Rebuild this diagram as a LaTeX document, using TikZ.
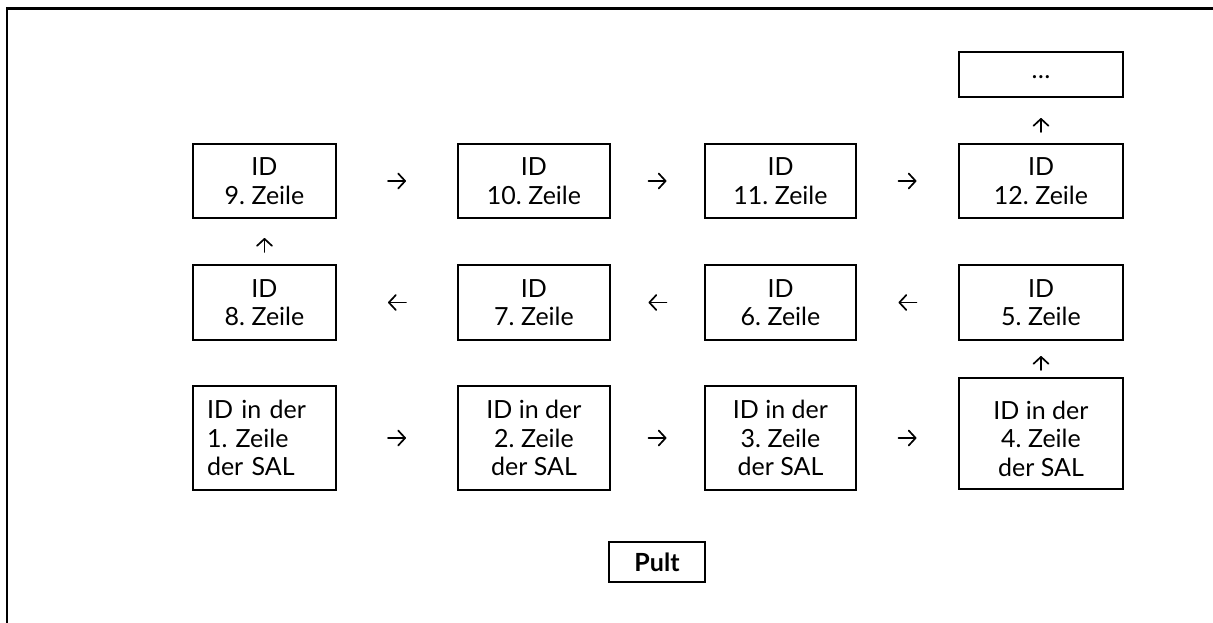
\documentclass[tikz,border=0pt]{standalone}
\usepackage{fontspec}
\setmainfont{Lato}
\usetikzlibrary{arrows.meta}
\frenchspacing
\begin{document}
\begin{tikzpicture}[x=1pt,y=-1pt,
  boxfont/.style={font=\fontsize{25}{28.5}\selectfont},
  box/.style={draw, line width=2pt, inner sep=0pt, align=center, boxfont},
  flow/.style={line width=1.9pt, line cap=round,
    -{Straight Barb[length=7pt,width=15pt,line width=1.7pt,round]}},
]
\useasboundingbox (0,0) rectangle (1213,623);

% page frame (top and left edges)
\draw[line width=2.3pt] (7,623) -- (7,8.5) -- (1213,8.5);

% top row
\node[box, minimum width=143, minimum height=74] (n9)  at (264.5,181) {ID\\9. Zeile};
\node[box, minimum width=152, minimum height=74] (n10) at (534,181)   {ID\\10. Zeile};
\node[box, minimum width=151, minimum height=74] (n11) at (780.5,181) {ID\\11. Zeile};
\node[box, minimum width=164, minimum height=74] (n12) at (1041,181)  {ID\\12. Zeile};
\node[box, minimum width=164, minimum height=45] (more) at (1041,74.5) {\raisebox{-9pt}{…}};

% middle row
\node[box, minimum width=143, minimum height=75] (n8) at (264.5,302.5) {ID\\8. Zeile};
\node[box, minimum width=152, minimum height=75] (n7) at (534,302.5)   {ID\\7. Zeile};
\node[box, minimum width=151, minimum height=75] (n6) at (780.5,302.5) {ID\\6. Zeile};
\node[box, minimum width=164, minimum height=75] (n5) at (1041,302.5)  {ID\\5. Zeile};

% bottom row
\node[box, text width=115, inner xsep=14, align=left, minimum height=104] (n1)
  at (264.5,438) {ID in der\\1. Zeile\\der SAL};
\node[box, minimum width=152, minimum height=104] (n2) at (534,438)   {ID in der\\2. Zeile\\der SAL};
\node[box, minimum width=151, minimum height=104] (n3) at (780.5,438) {ID in der\\3. Zeile\\der SAL};
\node[box, minimum width=164, minimum height=111,
  label={[align=center, boxfont, yshift=-5pt]center:ID in der\\4. Zeile\\der SAL}]
  (n4) at (1041,433.5) {};

% desk
\node[box, minimum width=96, minimum height=40, font=\fontsize{25}{28}\selectfont\bfseries] (pult) at (657,562) {Pult};

% reading order
\draw[flow, shorten <=51, shorten >=51] (n1) -- (n2);
\draw[flow, shorten <=37.5, shorten >=37.5] (n2) -- (n3);
\draw[flow, shorten <=41.5, shorten >=41.5] (n3.east) -- (n3.east -| n4.west);
\draw[flow, shorten <=7, shorten >=15] (n4) -- (n5);
\draw[flow, shorten <=41.5, shorten >=41.5] (n5) -- (n6);
\draw[flow, shorten <=37.5, shorten >=37.5] (n6) -- (n7);
\draw[flow, shorten <=51, shorten >=51] (n7) -- (n8);
\draw[flow, shorten <=12, shorten >=19] (n8) -- (n9);
\draw[flow, shorten <=51, shorten >=51] (n9) -- (n10);
\draw[flow, shorten <=37.5, shorten >=37.5] (n10) -- (n11);
\draw[flow, shorten <=41.5, shorten >=41.5] (n11) -- (n12);
\draw[flow, shorten <=11, shorten >=20] (n12) -- (more);
\end{tikzpicture}
\end{document}
